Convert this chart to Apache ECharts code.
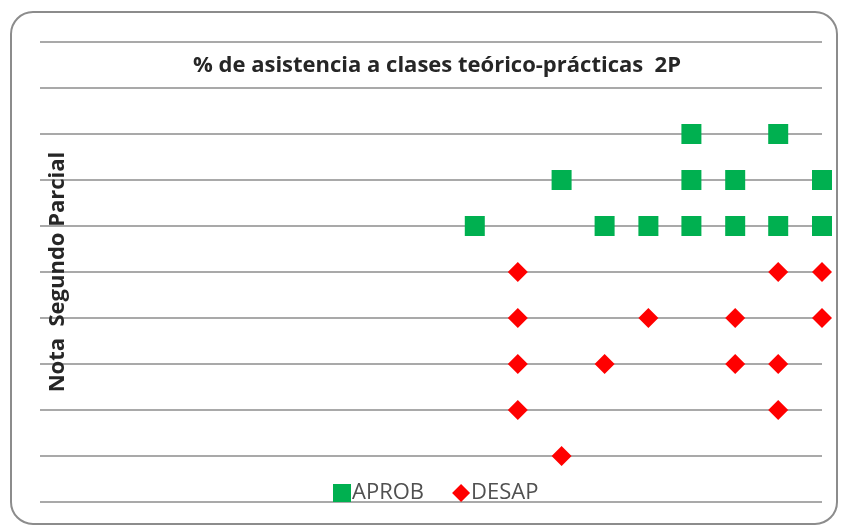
<!DOCTYPE html>
<html>
<head>
<meta charset="utf-8">
<script src="https://cdn.jsdelivr.net/npm/echarts@6/dist/echarts.min.js"></script>
<style>
  html, body { margin: 0; padding: 0; background: #fff; }
  #chart { width: 841px; height: 527px; }
</style>
</head>
<body>
<div id="chart"></div>
<script>
// % attendance (x) and grade of the second partial (y)
const aprob = [
  [83.3, 8], [94.4, 8],
  [66.7, 7], [83.3, 7], [88.9, 7], [100, 7],
  [55.6, 6], [72.2, 6], [77.8, 6], [83.3, 6], [88.9, 6], [94.4, 6], [100, 6]
];
const desap = [
  [61.1, 5], [94.4, 5], [100, 5],
  [61.1, 4], [77.8, 4], [88.9, 4], [100, 4],
  [61.1, 3], [72.2, 3], [88.9, 3], [94.4, 3],
  [61.1, 2], [94.4, 2],
  [66.7, 1]
];
const seriesNames = ["APROB", "DESAP"];

const chart = echarts.init(document.getElementById("chart"));

chart.setOption({
  animation: false,
  title: {
    text: "% de asistencia a clases teórico-prácticas  2P",
    left: 432,
    top: 50,
    textAlign: "center",
    textStyle: { fontFamily: "Open Sans", fontWeight: "bold", fontSize: 22, color: "#262626" }
  },
  legend: {
    data: seriesNames,
    left: 328,
    top: 477,
    itemWidth: 18,
    itemHeight: 18,
    itemGap: 28,
    textStyle: { fontFamily: "Open Sans", fontSize: 22, color: "#505050", padding: [0, 0, 0, -4] }
  },
  graphic: [{
    type: "rect",
    shape: { x: 11, y: 12, width: 826, height: 512, r: 22 },
    style: { fill: "none", stroke: "#8c8c8c", lineWidth: 2 },
    silent: true,
    z: -1
  }],
  grid: { left: 40, right: 19, top: 42, bottom: 25 },
  xAxis: {
    type: "value",
    min: 0,
    max: 100,
    axisLine: { show: false },
    axisTick: { show: false },
    axisLabel: { show: false },
    splitLine: { show: false }
  },
  yAxis: {
    type: "value",
    min: 0,
    max: 10,
    interval: 1,
    name: "Nota  Segundo Parcial",
    nameLocation: "middle",
    nameRotate: 90,
    nameGap: -29,
    nameTextStyle: { fontFamily: "Open Sans", fontWeight: "bold", fontSize: 22, color: "#262626" },
    axisLine: { show: false },
    axisTick: { show: false },
    axisLabel: { show: false },
    splitLine: { lineStyle: { color: "#8c8c8c", width: 1.6 } }
  },
  series: [
    {
      name: seriesNames[0],
      type: "scatter",
      symbol: "rect",
      symbolSize: 20,
      itemStyle: { color: "#00b050", opacity: 1 },
      data: aprob
    },
    {
      name: seriesNames[1],
      type: "scatter",
      symbol: "diamond",
      symbolSize: [20, 20],
      itemStyle: { color: "#ff0000", opacity: 1 },
      data: desap
    }
  ]
});
</script>
</body>
</html>
